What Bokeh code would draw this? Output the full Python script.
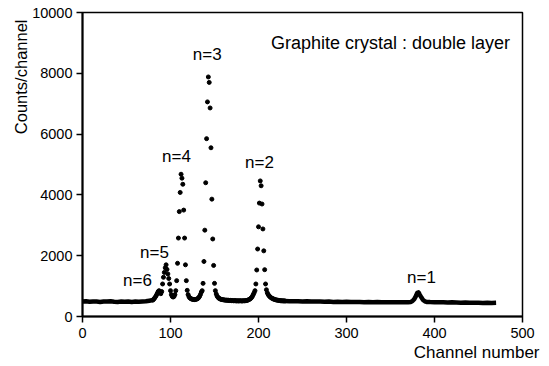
import math
from bokeh.plotting import figure
from bokeh.models import Label, FixedTicker, Range1d, Title
from bokeh.embed import file_html
from bokeh.resources import INLINE

# ---- data ----
# flat background left of the peaks (sampled)
base_left_ch = [0, 4, 8, 12, 16, 20, 24, 28, 32, 36, 40, 44, 48, 52, 56, 60, 64, 68, 72, 76, 80]
base_left_counts = [490, 500, 485, 495, 490, 480, 495, 490, 500, 485, 480, 490, 485, 495, 480, 490, 485, 495, 500, 520, 540]

# channel-by-channel counts through the n=6 ... n=2 peaks (channels 80..230)
peak_ch = list(range(80, 231))
peak_counts = [
    540, 570, 610, 650, 700, 760, 820, 850, 810, 750,
    820, 1070, 1290, 1450, 1600, 1700, 1550, 1400, 1250, 1070,
    850, 720, 660, 640, 660, 720, 850, 1180, 1750, 2580,
    3450, 4080, 4680, 4550, 4350, 3500, 2580, 1700, 1180, 860,
    720, 650, 610, 590, 575, 565, 560, 555, 560, 565,
    575, 590, 620, 660, 720, 800, 850, 1090, 1810, 2840,
    4400, 5850, 7060, 7880, 7700, 6860, 5550, 3860, 2550, 1680,
    1090, 850, 740, 670, 630, 600, 585, 570, 560, 555,
    550, 545, 540, 535, 540, 530, 535, 525, 530, 520,
    525, 520, 515, 525, 520, 510, 520, 515, 510, 520,
    515, 510, 515, 520, 515, 520, 525, 530, 540, 555,
    570, 590, 620, 660, 720, 780, 850, 1070, 1530, 2220,
    2950, 3730, 4460, 4300, 3700, 2880, 2160, 1540, 1070, 880,
    780, 720, 680, 650, 625, 605, 590, 575, 565, 555,
    545, 540, 535, 530, 525, 520, 515, 520, 510, 515,
    510,
]
assert len(peak_ch) == len(peak_counts)

# background right of the peaks incl. the n=1 peak (sampled)
base_right_ch = [230, 235, 240, 245, 250, 255, 260, 265, 270, 275, 280, 285, 290, 295, 300,
                 305, 310, 315, 320, 325, 330, 335, 340, 345, 350, 355, 360, 365, 370, 373,
                 375, 377, 379, 380, 381, 382, 383, 385, 387, 389, 391, 395, 400, 405, 410,
                 415, 420, 425, 430, 435, 440, 445, 450, 455, 460, 465, 470]
base_right_counts = [510, 505, 500, 505, 495, 500, 490, 495, 490, 485, 490, 480, 485, 480, 485,
                     475, 480, 475, 470, 480, 470, 475, 470, 465, 470, 465, 470, 465, 470, 480,
                     510, 570, 680, 750, 800, 790, 730, 630, 545, 500, 480, 475, 470, 465, 470,
                     460, 465, 460, 455, 460, 450, 455, 450, 445, 450, 445, 450]

x_ticks = [0, 100, 200, 300, 400, 500]
y_ticks = [0, 2000, 4000, 6000, 8000, 10000]

peak_names = ["n=1", "n=2", "n=3", "n=4", "n=5", "n=6"]
title_text = "Graphite crystal : double layer"
x_title = "Channel number"
y_title = "Counts/channel"

# ---- layout (label anchor positions in data units) ----
peak_label_x = [385.2, 201.1, 141.7, 106.8, 81.8, 62.5]
peak_label_y = [1296, 5069, 8612, 5266, 2100, 1198]

FONT = "Liberation Sans"

p = figure(width=549, height=366, x_range=Range1d(0, 500), y_range=Range1d(0, 10000),
           output_backend="svg", toolbar_location=None,
           min_border_left=82, min_border_right=27, min_border_top=12, min_border_bottom=50)
p.xgrid.visible = False
p.ygrid.visible = False
p.outline_line_color = "black"
p.outline_line_width = 1.5
p.background_fill_color = "white"
p.border_fill_color = "white"

p.xaxis.ticker = FixedTicker(ticks=x_ticks)
p.yaxis.ticker = FixedTicker(ticks=y_ticks)
for ax in (p.xaxis[0], p.yaxis[0]):
    ax.axis_line_width = 2
    ax.axis_line_color = "black"
    ax.major_tick_line_width = 1.5
    ax.major_tick_line_color = "black"
    ax.major_tick_out = 6
    ax.major_tick_in = 0
    ax.minor_tick_line_color = None
    ax.major_label_text_font = FONT
    ax.major_label_text_font_size = "14.5px"
    ax.major_label_text_color = "black"
p.yaxis.major_label_standoff = 4
p.xaxis.major_label_standoff = 5

p.line(base_left_ch, base_left_counts, line_width=4.5, line_color="black")
p.line(base_right_ch, base_right_counts, line_width=4.5, line_color="black")
p.scatter(peak_ch, peak_counts, size=4, fill_color="black", line_color="black")

for t, lx, ly in zip(peak_names, peak_label_x, peak_label_y):
    p.add_layout(Label(x=lx, y=ly, text=t, text_font=FONT, text_font_size="17px",
                       text_align="center", text_baseline="middle", text_color="black"))

p.add_layout(Label(x=350, y=9006, text=title_text, text_font=FONT, text_font_size="18px",
                   text_align="center", text_baseline="middle", text_color="black"))

p.add_layout(Title(text=x_title, align="right", offset=-17, standoff=0,
                   text_font=FONT, text_font_size="17px", text_font_style="normal",
                   text_color="black"), "below")
p.add_layout(Title(text=y_title, align="right", offset=7, standoff=0,
                   text_font=FONT, text_font_size="16.5px", text_font_style="normal",
                   text_color="black"), "left")

open("out.html", "w").write(file_html(p, INLINE))
